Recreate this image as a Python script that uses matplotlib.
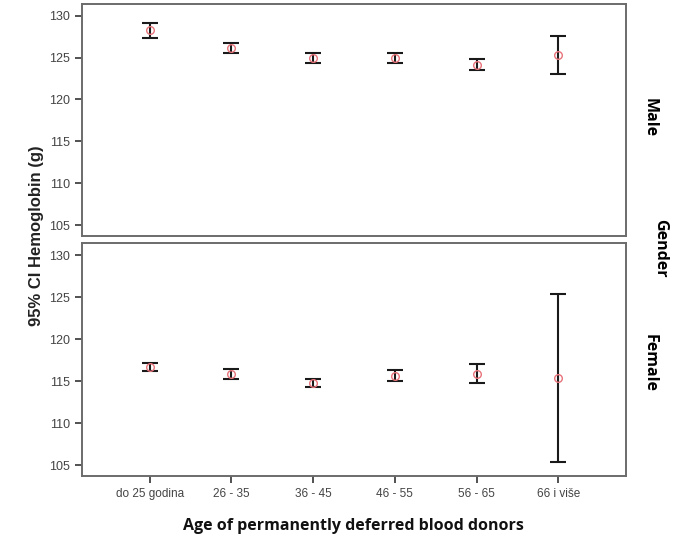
import numpy as np
import matplotlib.pyplot as plt

# age groups on the x axis
age_groups = ["do 25 godina", "26 - 35", "36 - 45", "46 - 55", "56 - 65", "66 i više"]

# mean hemoglobin and 95% CI bounds
male_mean = [128.3, 126.2, 125.0, 124.9, 124.1, 125.3]
male_low = [127.4, 125.6, 124.4, 124.3, 123.5, 123.0]
male_high = [129.1, 126.7, 125.6, 125.5, 124.8, 127.6]

female_mean = [116.65, 115.9, 114.75, 115.65, 115.85, 115.4]
female_low = [116.2, 115.3, 114.3, 115.0, 114.8, 105.4]
female_high = [117.1, 116.4, 115.3, 116.3, 117.0, 125.4]

yticks = [105, 110, 115, 120, 125, 130]

fig = plt.figure(figsize=(6.96, 5.51), dpi=100)
ax_top = fig.add_axes([0.1178, 0.5717, 0.7816, 0.421])
ax_bot = fig.add_axes([0.1178, 0.1361, 0.7816, 0.4223])

x = np.arange(len(age_groups))
frame_col = "#6b6b6b"

for ax, mean, low, high in [(ax_top, male_mean, male_low, male_high),
                            (ax_bot, female_mean, female_low, female_high)]:
    mean = np.array(mean)
    err = [mean - np.array(low), np.array(high) - mean]
    ax.errorbar(x, mean, yerr=err, fmt="none", ecolor="#1a1a1a",
                elinewidth=1.5, capsize=6, capthick=1.5)
    ax.plot(x, mean, "o", mfc="none", mec="#e8737a", ms=5.5, mew=1.0)
    ax.set_xlim(-0.83, 5.83)
    ax.set_ylim(103.7, 131.4)
    ax.set_yticks(yticks)
    for s in ax.spines.values():
        s.set_color(frame_col)
        s.set_linewidth(1.4)
    ax.tick_params(axis="y", direction="out", length=5, width=1.2, color="#333333",
                   labelsize=9, labelcolor="#444444")
    ax.tick_params(axis="x", direction="out", length=5, width=1.2, color="#333333",
                   labelsize=8.5, labelcolor="#444444")
    for lab in ax.get_yticklabels():
        lab.set_fontfamily("Liberation Sans")

ax_top.set_xticks([])
ax_bot.set_xticks(x)
ax_bot.set_xticklabels(age_groups, fontfamily="Liberation Sans")

fig.text(0.053, 0.572, "95% CI Hemoglobin (g)", rotation=90, ha="center", va="center",
         fontsize=12, fontweight="bold", family="Liberation Sans", color="#222222")
fig.text(0.508, 0.045, "Age of permanently deferred blood donors", ha="center", va="center",
         fontsize=11.5, fontweight="bold", family="Open Sans", color="#111111")
fig.text(0.933, 0.787, "Male", rotation=-90, ha="center", va="center",
         fontsize=11.5, fontweight="bold", family="Open Sans")
fig.text(0.933, 0.341, "Female", rotation=-90, ha="center", va="center",
         fontsize=11.5, fontweight="bold", family="Open Sans")
fig.text(0.949, 0.55, "Gender", rotation=-90, ha="center", va="center",
         fontsize=11.5, fontweight="bold", family="Open Sans")

fig.savefig("out.png", dpi=100)
